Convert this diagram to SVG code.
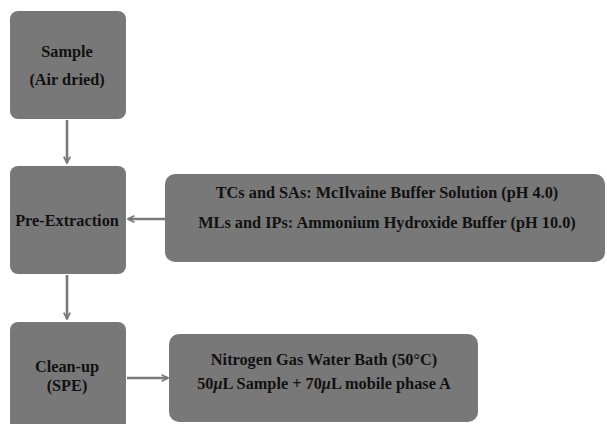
<svg xmlns="http://www.w3.org/2000/svg" width="607" height="424" viewBox="0 0 607 424">
<defs>
<style>
.box{fill:#787878;}
.t{font-family:"Liberation Serif","Times New Roman",serif;font-weight:bold;font-size:16.3px;fill:#111;text-anchor:middle;}
.c{stroke:#7a7a7a;stroke-width:2.6;fill:none;}
</style>
<marker id="ah" viewBox="0 0 10 10" refX="9" refY="5" markerWidth="8" markerHeight="8" orient="auto" markerUnits="userSpaceOnUse">
<path d="M1,1 L9,5 L1,9" fill="none" stroke="#7a7a7a" stroke-width="2.2"/>
</marker>
</defs>
<rect width="607" height="424" fill="#fff"/>
<g id="connectors">
<line class="c" x1="67" y1="120" x2="67" y2="163" marker-end="url(#ah)"/>
<line class="c" x1="67" y1="275" x2="67" y2="319" marker-end="url(#ah)"/>
<line class="c" x1="165" y1="219" x2="128" y2="219" marker-end="url(#ah)"/>
<line class="c" x1="127" y1="378" x2="168" y2="378" marker-end="url(#ah)"/>
</g>
<g id="sample">
<rect class="box" x="10" y="11" width="116" height="108" rx="8"/>
<text class="t" x="67" y="57">Sample</text>
<text class="t" x="67" y="85">(Air dried)</text>
</g>
<g id="preextraction">
<rect class="box" x="10" y="166" width="116" height="108" rx="8"/>
<text class="t" x="67" y="226">Pre-Extraction</text>
</g>
<g id="cleanup">
<rect class="box" x="10" y="322" width="116" height="110" rx="8"/>
<text class="t" x="67" y="372">Clean-up</text>
<text class="t" x="67" y="391">(SPE)</text>
</g>
<g id="buffers">
<rect class="box" x="165" y="174" width="440" height="88" rx="10"/>
<text class="t" x="387" y="198">TCs and SAs: McIlvaine Buffer Solution (pH 4.0)</text>
<text class="t" x="387" y="228">MLs and IPs: Ammonium Hydroxide Buffer (pH 10.0)</text>
</g>
<g id="nitrogen">
<rect class="box" x="169" y="334" width="309" height="88" rx="10"/>
<text class="t" x="324" y="365">Nitrogen Gas Water Bath (50°C)</text>
<text class="t" x="324" y="389">50<tspan font-style="italic">μ</tspan>L Sample + 70<tspan font-style="italic">μ</tspan>L mobile phase A</text>
</g>
</svg>
